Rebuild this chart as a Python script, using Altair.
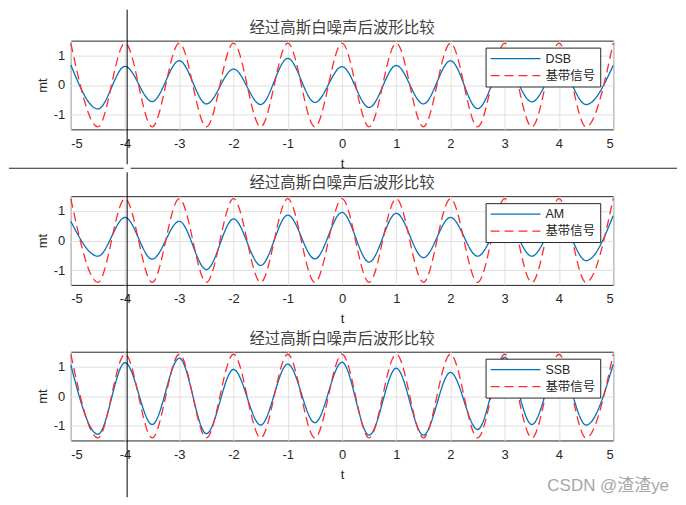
import altair as alt
import pandas as pd

# ---------------- data ----------------
# extrema positions of the waveforms (peaks at integers, troughs at half-integers)
t_vals = [-5, -4.5, -4, -3.5, -3, -2.5, -2, -1.5, -1, -0.5, 0,
          0.5, 1, 1.5, 2, 2.5, 3, 3.5, 4, 4.5, 5]

# baseband signal (red dashed)
base_vals = [1.414, -1.414, 1.414, -1.414, 1.414, -1.414, 1.414, -1.414, 1.414, -1.414, 1.414,
             -1.414, 1.414, -1.414, 1.414, -1.414, 1.414, -1.414, 1.414, -1.414, 1.414]

# demodulated signals after Gaussian white noise
dsb_vals = [0.68, -0.81, 0.63, -0.56, 0.82, -0.64, 0.54, -0.66, 0.90, -0.59, 0.62,
            -0.76, 0.66, -0.64, 0.82, -0.80, 0.70, -0.57, 0.62, -0.66, 0.66]
am_vals = [0.65, -0.53, 0.78, -0.63, 0.65, -0.98, 0.73, -0.84, 0.86, -0.62, 0.95,
           -0.73, 0.92, -0.58, 0.78, -0.53, 0.75, -0.53, 0.70, -0.68, 0.84]
ssb_vals = [1.05, -1.29, 1.13, -0.96, 1.28, -1.27, 0.90, -0.98, 1.08, -0.90, 1.14,
            -1.32, 0.94, -1.32, 0.80, -1.13, 1.31, -0.96, 1.10, -0.98, 1.07]

panels = [("DSB", dsb_vals), ("AM", am_vals), ("SSB", ssb_vals)]
base_name = "基带信号"
title_text = "经过高斯白噪声后波形比较"
x_ticks = [-5, -4, -3, -2, -1, 0, 1, 2, 3, 4, 5]
y_ticks = [-1, 0, 1]
watermark = "CSDN @渣渣ye"

# ---------------- styling ----------------
BLUE = "#0072BD"
RED = "#FF2B2B"
INK = "#262626"
LATIN = "Liberation Sans, Noto Sans CJK SC"
W, H = 544, 89


def make_panel(name, vals, last=False):
    df = pd.DataFrame({
        "t": t_vals + t_vals,
        "mt": vals + base_vals,
        "s": [name] * len(t_vals) + [base_name] * len(t_vals),
    })
    leg = alt.Legend(orient="none", legendX=416, legendY=7, title=None,
                     symbolType="stroke", symbolSize=2500, symbolStrokeWidth=1.3,
                     clipHeight=14,
                     labelFontSize=12.5, labelFont=LATIN, labelColor=INK,
                     labelOffset=4, padding=4, rowPadding=3,
                     strokeColor=INK, fillColor="white", cornerRadius=0,
                     labelLimit=200)
    color = alt.Color("s:N", scale=alt.Scale(domain=[name, base_name], range=[BLUE, RED]), legend=leg)
    dash = alt.StrokeDash("s:N", scale=alt.Scale(domain=[name, base_name], range=[[1, 0], [9, 5]]), legend=leg)
    x = alt.X("t:Q", scale=alt.Scale(domain=[-5, 5], nice=False, zero=False),
              axis=alt.Axis(values=x_ticks, title="t", labelExpr="datum.value + ''",
                            ticks=False, domain=False, labelPadding=8, titlePadding=7,
                            labelFontSize=13, titleFontSize=13, labelFont=LATIN,
                            titleFont=LATIN, titleFontWeight="normal",
                            labelColor=INK, titleColor=INK,
                            gridColor="#e0e0e0", gridWidth=1))
    y = alt.Y("mt:Q", scale=alt.Scale(domain=[-1.5, 1.5], nice=False, zero=False),
              axis=alt.Axis(values=y_ticks, title="mt", labelExpr="datum.value + ''",
                            ticks=False, domain=False, labelPadding=6, titlePadding=4,
                            labelFontSize=13, titleFontSize=13, labelFont=LATIN,
                            titleFont=LATIN, titleFontWeight="normal",
                            labelColor=INK, titleColor=INK,
                            gridColor="#e0e0e0", gridWidth=1))
    blue = alt.Chart(df).transform_filter(alt.datum.s == name).mark_line(
        interpolate="monotone", strokeWidth=1.3).encode(x=x, y=y, color=color, strokeDash=dash)
    red = alt.Chart(df).transform_filter(alt.datum.s == base_name).mark_line(
        interpolate="monotone", strokeWidth=1.3).encode(x=x, y=y, color=color, strokeDash=dash)
    dec = pd.DataFrame({"k": [0]})
    # panel title, drawn as text above the plot box
    ttl = alt.Chart(dec).mark_text(align="center", baseline="alphabetic", fontSize=15.5,
                                   font="Noto Sans CJK SC", color="#404040").encode(
        x=alt.value(W / 2), y=alt.value(-8), text=alt.value(title_text))
    layers = [blue, red, ttl]
    if last:
        # screenshot crosshair and watermark (decoration only)
        layers += [
            alt.Chart(dec).mark_rule(color="black", strokeWidth=1).encode(
                x=alt.value(56.5), y=alt.value(-343), y2=alt.value(-188)),
            alt.Chart(dec).mark_rule(color="black", strokeWidth=1).encode(
                x=alt.value(56.5), y=alt.value(-180), y2=alt.value(146)),
            alt.Chart(dec).mark_rule(color=INK, strokeWidth=1).encode(
                y=alt.value(-184), x=alt.value(-62), x2=alt.value(53)),
            alt.Chart(dec).mark_rule(color=INK, strokeWidth=1).encode(
                y=alt.value(-184), x=alt.value(60), x2=alt.value(608)),
            alt.Chart(dec).mark_text(align="right", baseline="middle", fontSize=17,
                                     font=LATIN, color="#a6a6a6").encode(
                x=alt.value(600), y=alt.value(135), text=alt.value(watermark)),
        ]
    return alt.layer(*layers).properties(width=W, height=H)


charts = [make_panel(n, v, last=(i == 2)) for i, (n, v) in enumerate(panels)]

chart = alt.vconcat(*charts, spacing=67, bounds="flush").resolve_scale(
    color="independent", strokeDash="independent"
).properties(padding=0, background="white").configure_view(
    stroke=INK, strokeWidth=1
)

chart.save("out.html", embed_options={"renderer": "svg", "actions": False})
